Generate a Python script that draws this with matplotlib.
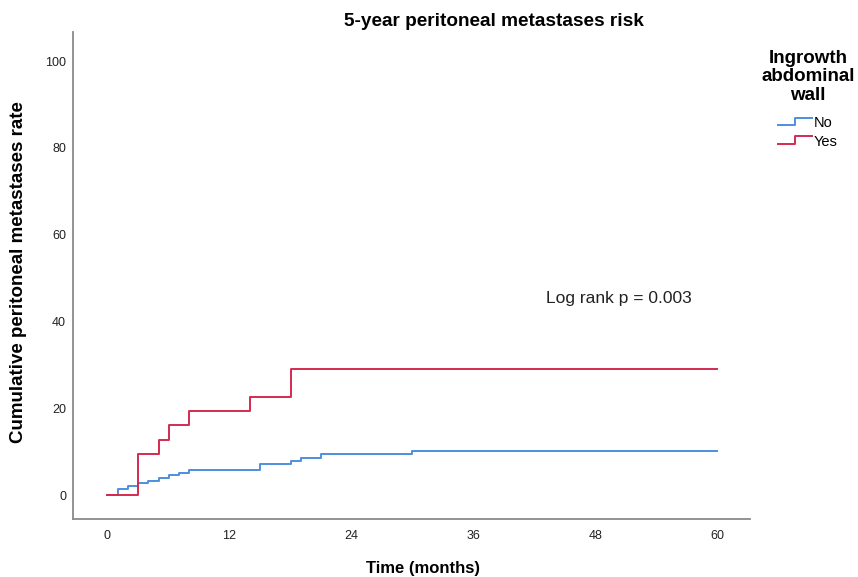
import matplotlib
matplotlib.use("Agg")
import matplotlib.pyplot as plt
from matplotlib.legend_handler import HandlerBase
from matplotlib.lines import Line2D

plt.rcParams['font.family'] = ['Liberation Sans', 'DejaVu Sans']

# Data (months, cumulative %)
no_times = [0, 1.1, 2.1, 3.1, 4.1, 5.1, 6.1, 7.1, 8.1, 15.1, 18.1, 19.1, 21.1, 30.0, 60]
no_vals = [0, 1.4, 2.1, 2.7, 3.3, 3.9, 4.6, 5.2, 5.9, 7.1, 7.8, 8.6, 9.4, 10.2, 10.2]
yes_times = [0, 3.1, 5.1, 6.1, 8.1, 14.1, 18.1, 60]
yes_vals = [0, 9.5, 12.8, 16.1, 19.3, 22.6, 29.0, 29.0]

xticks = [0, 12, 24, 36, 48, 60]
yticks = [0, 20, 40, 60, 80, 100]

blue = '#4d8fe0'
red = '#d42a50'

fig = plt.figure(figsize=(8.58, 5.77), dpi=100)
ax = fig.add_axes([73/858, 1-519/577, (750-73)/858, (519-32)/577])

ax.step(no_times, no_vals, where='post', color=blue, lw=1.4, label='No')
ax.step(yes_times, yes_vals, where='post', color=red, lw=1.4, label='Yes')

ax.set_xlim(-3.3, 63.2)
ax.set_ylim(-5.5, 106.7)
ax.set_xticks(xticks)
ax.set_yticks(yticks)
ax.tick_params(length=0, labelsize=9, colors='#222222')
ax.tick_params(axis='x', pad=8)
ax.tick_params(axis='y', pad=5)
for s in ['top', 'right']:
    ax.spines[s].set_visible(False)
for s in ['left', 'bottom']:
    ax.spines[s].set_color('#8a8a8a')
    ax.spines[s].set_linewidth(1.3)

ax.set_xlabel('Time (months)', fontsize=12, fontweight='bold', va='center')
ax.xaxis.set_label_coords((423-73)/677, (519-568)/487)
ax.set_ylabel('Cumulative peritoneal metastases rate', fontsize=13.5, fontweight='bold', va='center')
ax.yaxis.set_label_coords((19-73)/677, (519-272)/487)
fig.text(494/858, 1-22/577, '5-year peritoneal metastases risk', fontsize=13.7, fontweight='bold',
         ha='center', va='center')
ax.text(50.3, 45.4, 'Log rank p = 0.003', fontsize=12.5, ha='center', va='center', color='#222222')


class StepHandler(HandlerBase):
    def create_artists(self, legend, orig_handle, xdescent, ydescent, width, height, fontsize, trans):
        xs = [-xdescent, -xdescent + width * 0.5, -xdescent + width * 0.5, -xdescent + width]
        y0 = -ydescent + height * 0.2
        y1 = -ydescent + height * 0.95
        ys = [y0, y0, y1, y1]
        ln = Line2D(xs, ys, color=orig_handle.get_color(), lw=1.4)
        ln.set_transform(trans)
        return [ln]


handles, labels = ax.get_legend_handles_labels()
leg = fig.legend(handles, labels, loc='upper center', bbox_to_anchor=(808/858, 1-37/577),
                 title='Ingrowth\nabdominal\nwall', frameon=False, fontsize=10.5,
                 handler_map={h: StepHandler() for h in handles}, handlelength=2.3,
                 handletextpad=0.15, labelspacing=0.32)
t = leg.get_title()
t.set_fontweight('bold')
t.set_fontsize(13.5)
t.set_multialignment('center')
t.set_linespacing(1.1)
leg._legend_box.sep = 9

fig.savefig('out.png', dpi=100)
